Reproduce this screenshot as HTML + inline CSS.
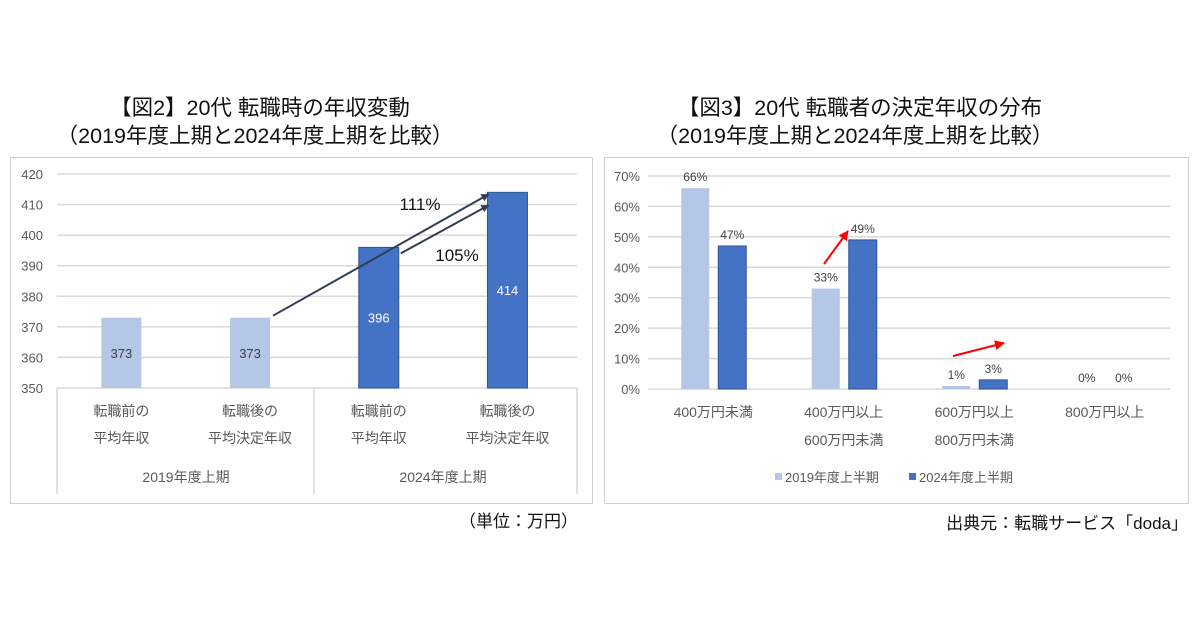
<!DOCTYPE html>
<html><head><meta charset="utf-8">
<style>
body{margin:0;width:1200px;height:630px;background:#fff;overflow:hidden;font-family:"Liberation Sans","Noto Sans CJK JP",sans-serif;}
svg text{font-family:"Liberation Sans","Noto Sans CJK JP",sans-serif;}
</style></head>
<body>
<svg id="s" width="1200" height="630">
<defs>
<marker id="ah" markerWidth="8" markerHeight="8" refX="7" refY="4" orient="auto" markerUnits="userSpaceOnUse"><path d="M0,0 L8,4 L0,8 z" fill="#2f3e55"/></marker>
<marker id="ar" markerWidth="10" markerHeight="10" refX="9" refY="5" orient="auto" markerUnits="userSpaceOnUse"><path d="M0,0 L10,5 L0,10 z" fill="#ff0000"/></marker>
</defs>
<text x="260" y="115" font-size="21.5" text-anchor="middle" fill="#111">【図2】20代  転職時の年収変動</text>
<text x="255" y="143" font-size="21.5" text-anchor="middle" fill="#111">（2019年度上期と2024年度上期を比較）</text>
<text x="860" y="115" font-size="21.5" text-anchor="middle" fill="#111">【図3】20代  転職者の決定年収の分布</text>
<text x="855" y="143" font-size="21.5" text-anchor="middle" fill="#111">（2019年度上期と2024年度上期を比較）</text>
<rect x="10.5" y="157.5" width="582" height="346" fill="#fff" stroke="#d0d0d0"/>
<rect x="604.5" y="157.5" width="584" height="346" fill="#fff" stroke="#d0d0d0"/>
<g id="L"></g><g id="R"></g>
<text x="578" y="527" font-size="17" text-anchor="end" fill="#111">（単位：万円）</text>
<text x="1188" y="529" font-size="17" text-anchor="end" fill="#111">出典元：転職サービス「doda」</text>
</svg>
<script>
const NS="http://www.w3.org/2000/svg";
function mk(p,t,a,txt){const e=document.createElementNS(NS,t);for(const k in a)e.setAttribute(k,a[k]);if(txt!==undefined)e.textContent=txt;p.appendChild(e);return e;}
// ---- left chart data
const leftCats1=["転職前の","転職後の","転職前の","転職後の"];
const leftCats2=["平均年収","平均決定年収","平均年収","平均決定年収"];
const leftGroups=["2019年度上期","2024年度上期"];
const leftValues=[373,373,396,414];
const leftTicks=[350,360,370,380,390,400,410,420];
// ---- right chart data
const rightCats1=["400万円未満","400万円以上","600万円以上","800万円以上"];
const rightCats2=["","600万円未満","800万円未満",""];
const series2019=[66,33,1,0];
const series2024=[47,49,3,0];
const rightTicks=[0,10,20,30,40,50,60,70];
const legendLabels=["2019年度上半期","2024年度上半期"];

const L=document.getElementById('L');
const ly=v=>388-(v-350)*(214/70);
const lx=i=>57+(i+0.5)*128.7;
leftTicks.forEach(t=>{
 const g=mk(L,'line',{x1:57,x2:577,y1:ly(t),y2:ly(t),stroke:'#d9d9d9','stroke-width':1.5});
 
 
 const tx=mk(L,'text',{x:43,y:ly(t)+5,'font-size':13,'text-anchor':'end',fill:'#595959'},t);
 
 
});
leftValues.forEach((v,i)=>{
 const dark=i>=2;
 const b=mk(L,'rect',{x:lx(i)-20,y:ly(v),width:40,height:ly(350)-ly(v),fill:dark?'#4472c4':'#b4c7e7',stroke:dark?'#2f5597':'none','stroke-width':1});
 
 
 const t=mk(L,'text',{x:lx(i),y:(ly(v)+ly(350))/2+5,'font-size':13,'text-anchor':'middle',fill:dark?'#fff':'#404040'},v);
 
 
 const c1=mk(L,'text',{x:lx(i),y:416,'font-size':14,'text-anchor':'middle',fill:'#595959'},leftCats1[i]);
 
 
 const c2=mk(L,'text',{x:lx(i),y:443,'font-size':14,'text-anchor':'middle',fill:'#595959'},leftCats2[i]);
 
 
});
[57,314,577].forEach(x=>{
 const d=mk(L,'line',{x1:x,x2:x,y1:388,y2:494,stroke:'#d9d9d9','stroke-width':1.5});
 
 
});
leftGroups.forEach((g,i)=>{
 const t=mk(L,'text',{x:186+i*257,y:482,'font-size':14,'text-anchor':'middle',fill:'#595959'},g);
 
 
});
const a1=mk(L,'line',{x1:lx(1)+23,y1:ly(leftValues[1])-2,x2:lx(3)-19,y2:ly(leftValues[3])+2,stroke:'#2f3e55','stroke-width':2,'marker-end':'url(#ah)'});


const a2=mk(L,'line',{x1:lx(2)+22,y1:ly(leftValues[2])+6,x2:lx(3)-19,y2:ly(leftValues[3])+13,stroke:'#2f3e55','stroke-width':2,'marker-end':'url(#ah)'});


const p1=mk(L,'text',{x:420,y:210,'font-size':17,'text-anchor':'middle',fill:'#111'},'111%');


const p2=mk(L,'text',{x:457,y:261,'font-size':17,'text-anchor':'middle',fill:'#111'},'105%');



// ---- right chart
const R=document.getElementById('R');
const ry=v=>389-v*(213/70);
const rx=i=>648+(i+0.5)*130.5;
rightTicks.forEach(t=>{
 const g=mk(R,'line',{x1:648,x2:1170,y1:ry(t),y2:ry(t),stroke:'#d9d9d9','stroke-width':1.5});
 
 
 const tx=mk(R,'text',{x:640,y:ry(t)+5,'font-size':13,'text-anchor':'end',fill:'#595959'},t+'%');
 
 
});
rightCats1.forEach((c,i)=>{
 [[series2019[i],-32,'#b4c7e7','none'],[series2024[i],5,'#4472c4','#2f5597']].forEach(([v,off,f,s])=>{
  if(v>0){const b=mk(R,'rect',{x:rx(i)+off,y:ry(v),width:28,height:ry(0)-ry(v),fill:f,stroke:s});
  
  }
  const t=mk(R,'text',{x:rx(i)+off+14,y:ry(v)-7,'font-size':12,'text-anchor':'middle',fill:'#404040'},v+'%');
  
  
 });
 const c1=mk(R,'text',{x:rx(i),y:417,'font-size':14,'text-anchor':'middle',fill:'#595959'},c);
 
 
 const c2=mk(R,'text',{x:rx(i),y:445,'font-size':14,'text-anchor':'middle',fill:'#595959'},rightCats2[i]);
 
 
});
const r1=mk(R,'line',{x1:824,y1:264,x2:848,y2:231,stroke:'#ff0000','stroke-width':2,'marker-end':'url(#ar)'});


const r2=mk(R,'line',{x1:953,y1:356,x2:1004,y2:343,stroke:'#ff0000','stroke-width':2,'marker-end':'url(#ar)'});


legendLabels.forEach((l,i)=>{
 const x=[775,909][i];
 const sq=mk(R,'rect',{x:x,y:473,width:7,height:7,fill:i?'#4472c4':'#b4c7e7'});
 
 
 const t=mk(R,'text',{x:x+10,y:482,'font-size':13,fill:'#595959'},l);
 
 
});
</script>
</body></html>
